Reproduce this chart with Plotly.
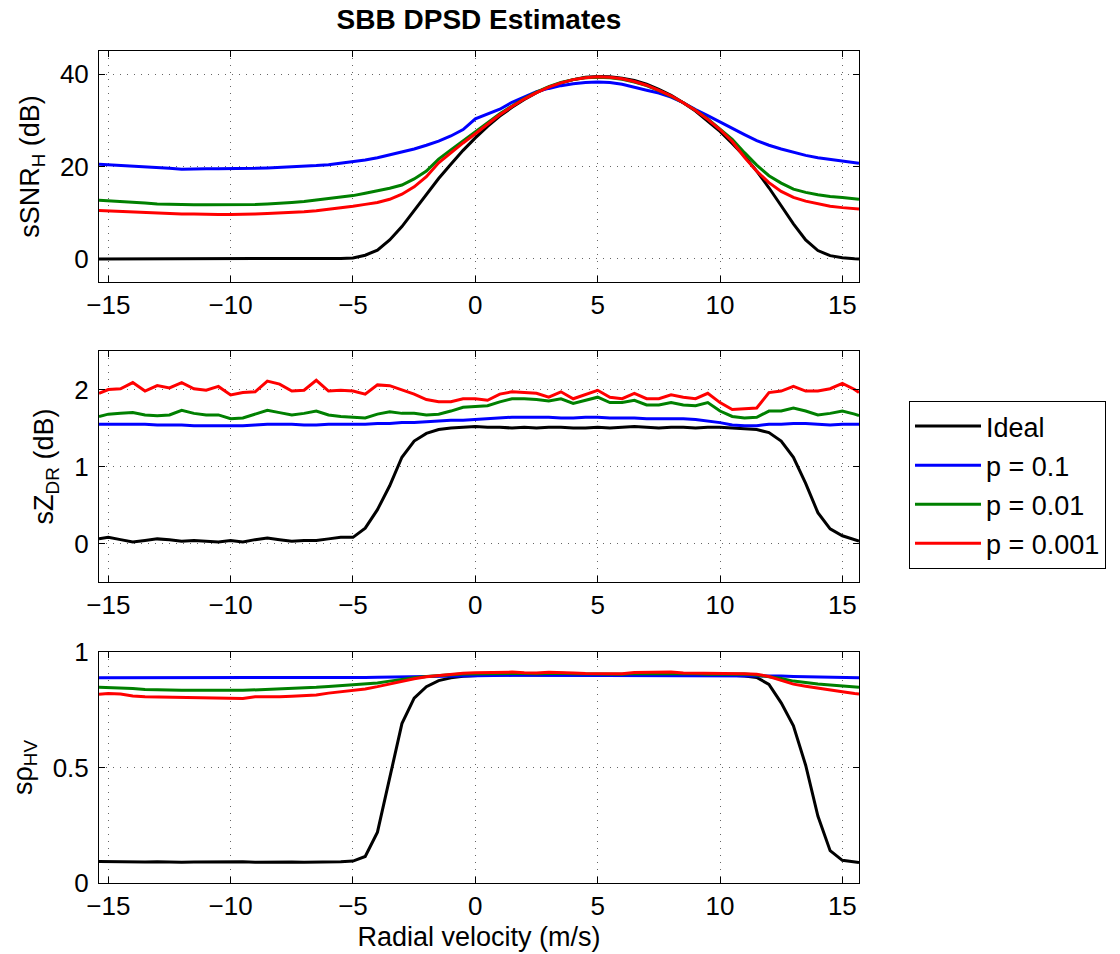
import plotly.graph_objects as go

# Velocity bins (m/s)
velocity = [-15.38] + [k / 2 for k in range(-30, 32)] + [15.68]

series_names = ["Ideal", "p = 0.1", "p = 0.01", "p = 0.001"]
series_colors = ["#000000", "#0000ff", "#008000", "#ff0000"]

# ---- sSNR_H (dB) ----
snr_ideal = [0.0, 0.0, 0.0, 0.0, 0.0, 0.0, 0.0, 0.0, 0.0, 0.0, 0.0, 0.0, 0.0, 0.0, 0.0, 0.0, 0.0, 0.0, 0.0, 0.05, 0.1,
             0.2, 0.8, 1.9, 4.1, 7.0, 10.5, 14.0, 17.4, 20.5, 23.5,
             26.2, 28.7, 30.9, 32.8, 34.5, 36.0, 37.2, 38.1, 38.8, 39.3,
             39.5, 39.4, 39.1, 38.6, 37.8, 36.7, 35.4, 33.8, 32.0, 29.9,
             27.6, 25.0, 22.2, 19.0, 15.4, 11.5, 7.6, 4.1, 1.8, 0.7,
             0.25, 0.05, 0.0]
snr_p1 = [20.5, 20.4, 20.2, 20.1, 20.0, 19.8, 19.6, 19.4, 19.5, 19.5, 19.5, 19.5, 19.5, 19.6, 19.7, 19.8, 20.0, 20.1, 20.2, 20.4, 20.7,
          21.0, 21.4, 21.9, 22.5, 23.1, 23.8, 24.6, 25.5, 26.6, 28.0,
          30.3, 31.3, 32.4, 33.9, 35.1, 36.2, 36.9, 37.5, 37.9, 38.2,
          38.3, 38.2, 37.8, 37.1, 36.5, 35.9, 35.0, 33.8, 32.3, 31.0,
          29.6, 28.2, 26.9, 25.6, 24.6, 23.8, 23.1, 22.4, 21.9, 21.5,
          21.1, 20.8, 20.7]
snr_p01 = [12.7, 12.6, 12.4, 12.2, 12.1, 11.9, 11.8, 11.8, 11.7, 11.7, 11.7, 11.7, 11.8, 11.8, 11.9, 12.0, 12.2, 12.4, 12.7, 13.0, 13.3,
           13.7, 14.2, 14.7, 15.3, 16.0, 17.3, 19.0, 21.6, 23.6, 25.6,
           27.5, 29.4, 31.4, 33.1, 34.7, 36.1, 37.3, 38.2, 38.8, 39.2,
           39.3, 39.2, 38.9, 38.3, 37.5, 36.4, 35.2, 33.8, 32.2, 30.3,
           28.2, 25.9, 23.0, 20.3, 18.0, 16.4, 15.1, 14.4, 13.9, 13.5,
           13.3, 13.0, 12.9]
snr_p001 = [10.5, 10.4, 10.2, 10.1, 10.0, 9.9, 9.8, 9.7, 9.7, 9.6, 9.6, 9.6, 9.6, 9.7, 9.8, 9.9, 10.0, 10.2, 10.4, 10.7, 11.0,
            11.4, 11.8, 12.2, 12.9, 14.0, 15.6, 17.8, 20.8, 23.0, 25.1,
            27.1, 29.2, 31.2, 33.0, 34.6, 36.0, 37.2, 38.1, 38.8, 39.2,
            39.4, 39.3, 39.0, 38.4, 37.6, 36.5, 35.3, 33.8, 32.1, 30.2,
            28.0, 25.4, 22.0, 19.0, 16.5, 14.6, 13.3, 12.5, 11.9, 11.4,
            11.1, 10.9, 10.8]

# ---- sZ_DR (dB) ----
zdr_ideal = [0.06, 0.08, 0.05, 0.02, 0.04, 0.06, 0.05, 0.03, 0.04, 0.03, 0.02, 0.04, 0.02, 0.05, 0.07, 0.05, 0.03, 0.04, 0.04, 0.06, 0.08,
             0.08, 0.2, 0.44, 0.75, 1.12, 1.33, 1.43, 1.48, 1.50, 1.51,
             1.52, 1.51, 1.51, 1.50, 1.51, 1.50, 1.51, 1.51, 1.50, 1.50,
             1.51, 1.50, 1.51, 1.52, 1.51, 1.50, 1.51, 1.51, 1.50, 1.51,
             1.51, 1.50, 1.49, 1.48, 1.44, 1.33, 1.12, 0.78, 0.40, 0.19,
             0.1, 0.05, 0.03]
zdr_p1 = [1.55, 1.55, 1.55, 1.55, 1.55, 1.54, 1.54, 1.54, 1.53, 1.53, 1.53, 1.53, 1.53, 1.54, 1.55, 1.55, 1.55, 1.54, 1.54, 1.55, 1.55,
          1.55, 1.55, 1.56, 1.56, 1.57, 1.57, 1.58, 1.59, 1.60, 1.60,
          1.61, 1.62, 1.63, 1.64, 1.64, 1.64, 1.64, 1.63, 1.63, 1.64,
          1.64, 1.63, 1.63, 1.63, 1.62, 1.62, 1.62, 1.62, 1.61, 1.59,
          1.57, 1.54, 1.53, 1.53, 1.55, 1.55, 1.56, 1.56, 1.55, 1.54,
          1.55, 1.55, 1.55]
zdr_p01 = [1.65, 1.68, 1.69, 1.70, 1.67, 1.66, 1.67, 1.73, 1.69, 1.67, 1.67, 1.62, 1.63, 1.68, 1.73, 1.70, 1.67, 1.69, 1.72, 1.67, 1.65,
           1.64, 1.63, 1.68, 1.71, 1.69, 1.69, 1.67, 1.68, 1.72, 1.77,
           1.78, 1.79, 1.84, 1.88, 1.88, 1.87, 1.85, 1.88, 1.82, 1.86,
           1.90, 1.83, 1.83, 1.86, 1.80, 1.80, 1.83, 1.80, 1.79, 1.83,
           1.72, 1.65, 1.63, 1.64, 1.72, 1.72, 1.76, 1.72, 1.67, 1.69,
           1.72, 1.68, 1.66]
zdr_p001 = [1.95, 2.00, 2.01, 2.09, 1.98, 2.05, 2.02, 2.09, 2.01, 1.99, 2.04, 1.93, 1.96, 1.97, 2.11, 2.07, 1.98, 1.99, 2.12, 1.98, 1.99,
            1.98, 1.94, 2.06, 2.05, 2.00, 1.94, 1.87, 1.84, 1.84, 1.88,
            1.88, 1.86, 1.94, 1.97, 1.96, 1.95, 1.90, 1.97, 1.88, 1.94,
            1.99, 1.90, 1.88, 1.95, 1.88, 1.88, 1.93, 1.90, 1.88, 1.95,
            1.83, 1.74, 1.75, 1.76, 1.96, 1.98, 2.04, 1.98, 1.98, 2.01,
            2.08, 2.00, 1.96]

# ---- s rho_HV ----
rho_ideal = [0.093, 0.092, 0.091, 0.090, 0.091, 0.092, 0.090, 0.090, 0.091, 0.092, 0.092, 0.093, 0.092, 0.090, 0.091, 0.092, 0.091, 0.090, 0.090, 0.091, 0.092,
             0.095, 0.115, 0.22, 0.46, 0.69, 0.80, 0.85, 0.876, 0.888, 0.895,
             0.898, 0.900, 0.900, 0.900, 0.900, 0.900, 0.900, 0.900, 0.900, 0.900,
             0.900, 0.900, 0.900, 0.900, 0.900, 0.900, 0.900, 0.900, 0.900, 0.900,
             0.900, 0.899, 0.896, 0.890, 0.86, 0.78, 0.68, 0.51, 0.29, 0.14,
             0.098, 0.090, 0.089]
rho_p1 = [0.889, 0.889, 0.889, 0.888, 0.888, 0.888, 0.887, 0.887, 0.887, 0.887, 0.887, 0.887, 0.887, 0.887, 0.888, 0.888, 0.888, 0.888, 0.888, 0.889, 0.889,
          0.889, 0.890, 0.891, 0.892, 0.893, 0.894, 0.895, 0.896, 0.897, 0.898,
          0.899, 0.899, 0.899, 0.899, 0.899, 0.899, 0.899, 0.899, 0.899, 0.899,
          0.899, 0.899, 0.899, 0.899, 0.899, 0.899, 0.899, 0.899, 0.899, 0.899,
          0.899, 0.899, 0.899, 0.898, 0.897, 0.896, 0.894, 0.893, 0.891, 0.890,
          0.889, 0.889, 0.889]
rho_p01 = [0.847, 0.846, 0.844, 0.842, 0.838, 0.836, 0.835, 0.834, 0.834, 0.833, 0.833, 0.834, 0.834, 0.836, 0.838, 0.839, 0.841, 0.844, 0.847, 0.851, 0.855,
           0.858, 0.861, 0.866, 0.874, 0.883, 0.889, 0.894, 0.899, 0.902, 0.905,
           0.906, 0.907, 0.908, 0.908, 0.907, 0.906, 0.908, 0.908, 0.906, 0.905,
           0.904, 0.905, 0.904, 0.907, 0.907, 0.906, 0.908, 0.906, 0.906, 0.904,
           0.905, 0.905, 0.905, 0.900, 0.893, 0.885, 0.874, 0.866, 0.861, 0.857,
           0.852, 0.848, 0.847]
rho_p001 = [0.817, 0.820, 0.818, 0.810, 0.806, 0.805, 0.804, 0.802, 0.803, 0.800, 0.799, 0.797, 0.799, 0.806, 0.805, 0.806, 0.808, 0.810, 0.814, 0.822, 0.828,
            0.832, 0.840, 0.850, 0.862, 0.873, 0.884, 0.893, 0.899, 0.904, 0.908,
            0.910, 0.911, 0.912, 0.913, 0.910, 0.909, 0.912, 0.912, 0.909, 0.907,
            0.906, 0.907, 0.906, 0.911, 0.911, 0.910, 0.913, 0.909, 0.909, 0.906,
            0.908, 0.909, 0.906, 0.904, 0.894, 0.877, 0.861, 0.852, 0.845, 0.837,
            0.828, 0.820, 0.818]

panels = [
    dict(series=[snr_ideal, snr_p1, snr_p01, snr_p001], yrange=[-5, 45], ticks=[0, 20, 40],
         ticktext=["0", "20", "40"], title="sSNR<sub>H</sub> (dB)"),
    dict(series=[zdr_ideal, zdr_p1, zdr_p01, zdr_p001], yrange=[-0.5, 2.5], ticks=[0, 1, 2],
         ticktext=["0", "1", "2"], title="sZ<sub>DR</sub> (dB)"),
    dict(series=[rho_ideal, rho_p1, rho_p01, rho_p001], yrange=[0, 1], ticks=[0, 0.5, 1],
         ticktext=["0", "0.5", "1"], title="s\u03c1<sub>HV</sub>"),
]

W, H = 1120, 954
x0, x1 = 99, 859
panel_px = [(51, 282), (351, 582), (652, 883)]
FONT = "Liberation Sans, Arial, Helvetica, sans-serif"

fig = go.Figure()
layout = dict(
    width=W, height=H,
    margin=dict(l=0, r=0, t=0, b=0),
    paper_bgcolor="white", plot_bgcolor="white",
    font=dict(family=FONT, color="black", size=26),
    title=dict(text="<b>SBB DPSD Estimates</b>", x=479 / W, xanchor="center",
               y=1 - 19 / H, yanchor="middle", yref="container",
               font=dict(size=28, family=FONT, color="black")),
    legend=dict(x=909 / W, y=1 - 401 / H, xanchor="left", yanchor="top",
                bordercolor="black", borderwidth=1, bgcolor="white",
                font=dict(size=27, family=FONT, color="black"),
                tracegroupgap=1, itemwidth=66,
                entrywidth=130, entrywidthmode="pixels"),
    showlegend=True,
)

grid_style = dict(showgrid=True, gridcolor="rgba(0,0,0,0.6)", gridwidth=1, griddash="1px,6px")
axis_common = dict(showline=True, linecolor="black", linewidth=1, mirror="ticks",
                   ticks="inside", ticklen=6, tickcolor="black", tickwidth=1,
                   zeroline=False, automargin=False,
                   tickfont=dict(size=26, family=FONT, color="black"), **grid_style)

for i, p in enumerate(panels):
    idx = "" if i == 0 else str(i + 1)
    top, bot = panel_px[i]
    xa = dict(axis_common, domain=[x0 / W, x1 / W], range=[-15.38, 15.68],
              tickvals=[-15, -10, -5, 0, 5, 10, 15], anchor="y" + idx)
    if i == 2:
        xa["title"] = dict(text="Radial velocity (m/s)", font=dict(size=27, family=FONT), standoff=6)
    ya = dict(axis_common, domain=[1 - bot / H, 1 - top / H], range=p["yrange"],
              tickvals=p["ticks"], ticktext=p["ticktext"], anchor="x" + idx,
              ticklabelstandoff=4,
              title=dict(text=p["title"], font=dict(size=27, family=FONT), standoff=12))
    layout["xaxis" + idx] = xa
    layout["yaxis" + idx] = ya
    for j, ys in enumerate(p["series"]):
        fig.add_trace(go.Scatter(
            x=velocity, y=ys, mode="lines", name=series_names[j],
            line=dict(color=series_colors[j], width=3),
            xaxis="x" + idx, yaxis="y" + idx,
            showlegend=(i == 0), legendgroup="g%d" % j,
        ))

fig.update_layout(**layout)
fig.write_html(
    "out.html",
    config={"displayModeBar": False},
    post_script="document.body.style.margin='0px';document.documentElement.style.overflow='hidden';",
)
